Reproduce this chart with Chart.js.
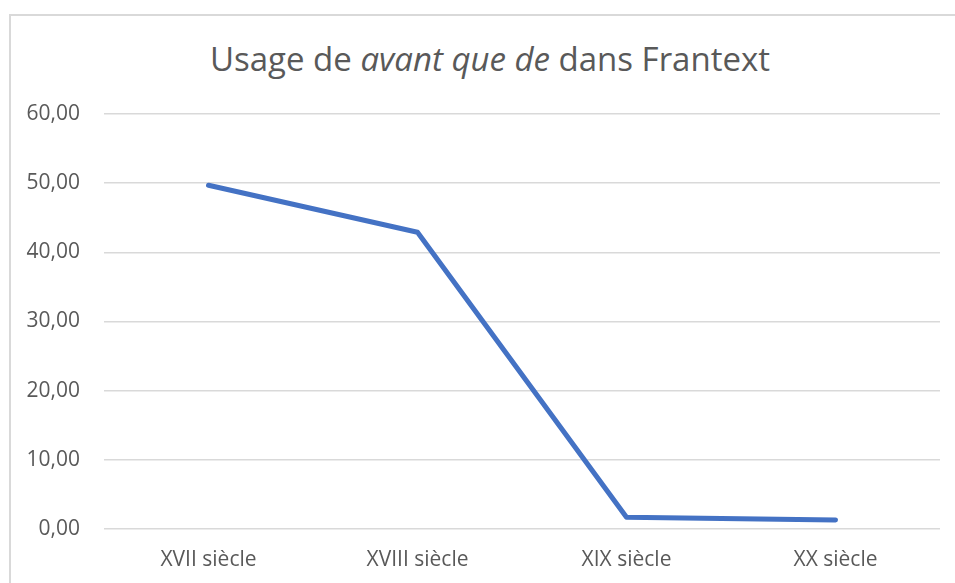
<!DOCTYPE html>
<html>
<head>
<meta charset="utf-8">
<script src="https://cdn.jsdelivr.net/npm/chart.js@4"></script>
<style>
  body{margin:0;background:#fff;overflow:hidden;}
  #frame{position:absolute;left:9px;top:14px;width:980px;height:620px;border:2px solid #d9d9d9;box-sizing:border-box;}
  #title{position:absolute;left:0;width:980px;top:37px;text-align:center;font-family:"Open Sans",sans-serif;font-size:33px;color:#595959;line-height:44px;white-space:nowrap;}
  #wrap{position:absolute;left:0;top:0;width:955px;height:583px;}
</style>
</head>
<body>
<div id="frame"></div>
<div id="title">Usage de <i>avant que de</i> dans Frantext</div>
<div id="wrap"><canvas id="chart"></canvas></div>
<script>
document.addEventListener("DOMContentLoaded", () => {

const categories = ["XVII siècle","XVIII siècle","XIX siècle","XX siècle"];
const usage = [49.7, 42.9, 1.7, 1.3];
const yTicks = [0, 10, 20, 30, 40, 50, 60];

const grey = "#595959";
const font = {family:"'Open Sans', sans-serif", size:21};

new Chart(document.getElementById("chart"), {
  type:"line",
  data:{labels:categories, datasets:[{
    data:usage,
    borderColor:"#4472C4",
    borderWidth:5,
    borderCapStyle:"round",
    borderJoinStyle:"round",
    pointRadius:0,
    tension:0
  }]},
  options:{
    responsive:true,
    maintainAspectRatio:false,
    animation:false,
    layout:{padding:{top:114,right:15,bottom:0,left:0}},
    plugins:{legend:{display:false}, tooltip:{enabled:false}, title:{display:false}},
    scales:{
      x:{
        offset:true,
        grid:{display:false},
        border:{display:false},
        ticks:{color:grey, font:font, padding:10, maxRotation:0},
        afterFit:s=>{ s.height = 54; }
      },
      y:{
        min:yTicks[0], max:yTicks[yTicks.length-1],
        grid:{color:"#d9d9d9", lineWidth:1.5, drawTicks:false},
        border:{display:false},
        afterBuildTicks:s=>{ s.ticks = yTicks.map(v=>({value:v})); },
        ticks:{color:grey, font:font, padding:24,
          callback:v=>v.toFixed(2).replace(".", ",")},
        afterFit:s=>{ s.width = 104; }
      }
    }
  }
});

});
</script>
</body>
</html>
